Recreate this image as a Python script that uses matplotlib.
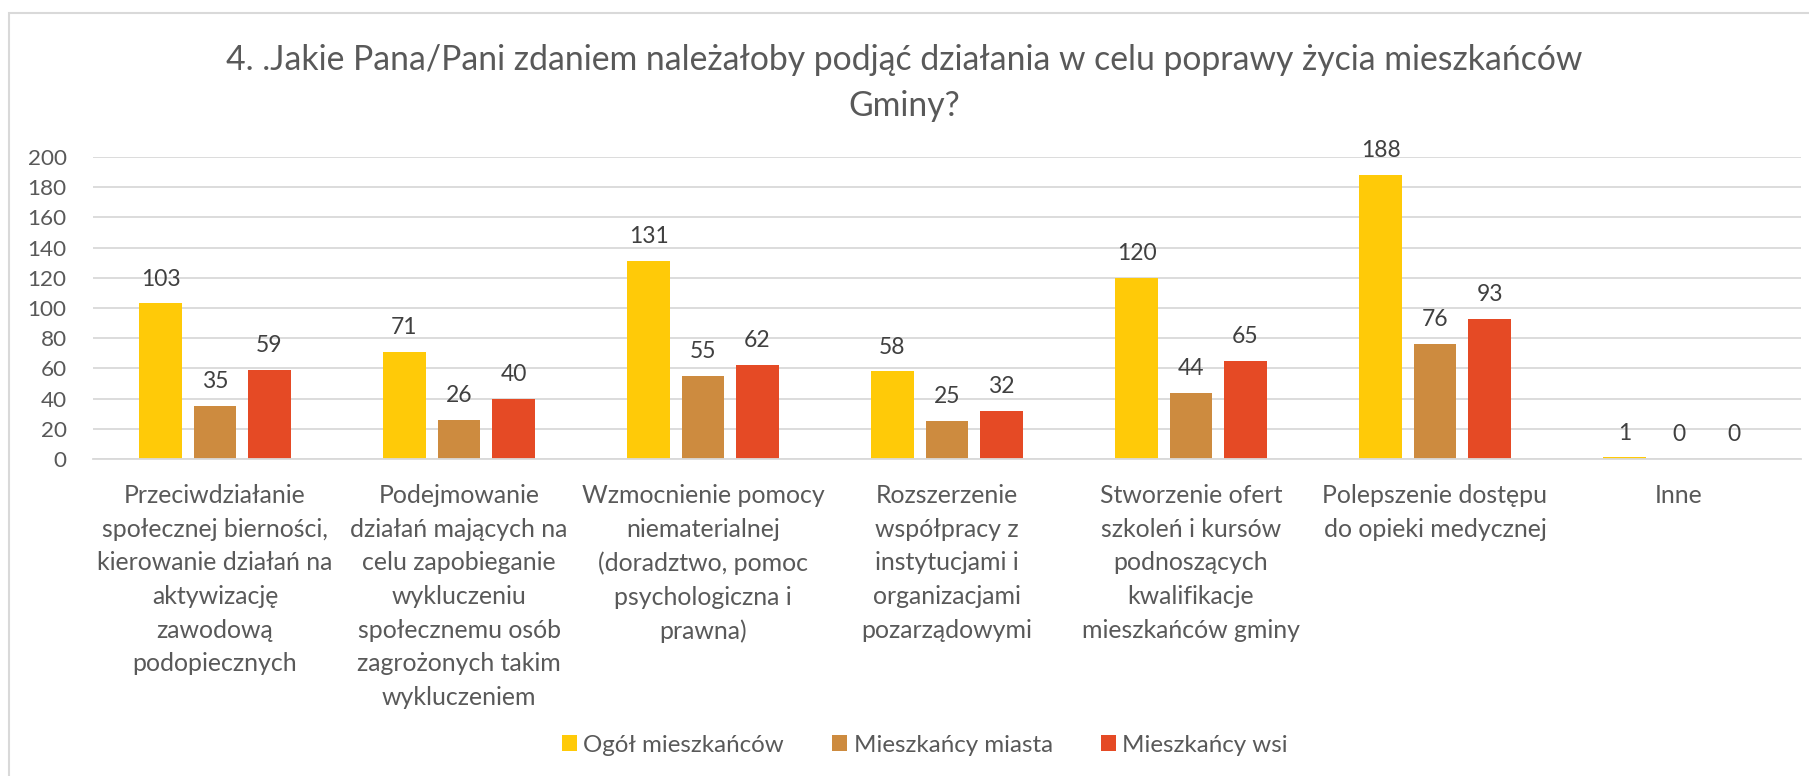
import matplotlib
matplotlib.use("Agg")
import matplotlib.pyplot as plt
import numpy as np
from matplotlib.patches import Rectangle

plt.rcParams['font.family'] = ['Lato', 'DejaVu Sans']

title = "4. .Jakie Pana/Pani zdaniem należałoby podjąć działania w celu poprawy życia mieszkańców\nGminy?"
categories = [
    "Przeciwdziałanie\nspołecznej bierności,\nkierowanie działań na\naktywizację\nzawodową\npodopiecznych",
    "Podejmowanie\ndziałań mających na\ncelu zapobieganie\nwykluczeniu\nspołecznemu osób\nzagrożonych takim\nwykluczeniem",
    "Wzmocnienie pomocy\nniematerialnej\n(doradztwo, pomoc\npsychologiczna i\nprawna)",
    "Rozszerzenie\nwspółpracy z\ninstytucjami i\norganizacjami\npozarządowymi",
    "Stworzenie ofert\nszkoleń i kursów\npodnoszących\nkwalifikacje\nmieszkańców gminy",
    "Polepszenie dostępu\ndo opieki medycznej",
    "Inne",
]
series_names = ["Ogół mieszkańców", "Mieszkańcy miasta", "Mieszkańcy wsi"]
ogol = [103, 71, 131, 58, 120, 188, 1]
miasto = [35, 26, 55, 25, 44, 76, 0]
wies = [59, 40, 62, 32, 65, 93, 0]
colors = ["#FFCA08", "#CD8B3F", "#E54A25"]
yticks = [0, 20, 40, 60, 80, 100, 120, 140, 160, 180, 200]

W, H = 1809, 776
fig = plt.figure(figsize=(W / 100, H / 100), dpi=100)
fig.patch.set_facecolor("white")

# outer chart frame
fig.add_artist(Rectangle((9 / W, -0.05), 1.2, (H - 13) / H + 0.05, transform=fig.transFigure,
                         fill=False, edgecolor="#D9D9D9", linewidth=1.5))

ax = fig.add_axes([93 / W, (H - 459) / H, (1801 - 93) / W, (459 - 157) / H])
x = np.arange(len(categories))
bw = 0.175
step = 0.2234
text_col = "#595959"
label_col = "#404040"

for i, (vals, col, name) in enumerate(zip([ogol, miasto, wies], colors, series_names)):
    bars = ax.bar(x + (i - 1) * step, vals, width=bw, color=col, label=name, zorder=3)
    for b, v in zip(bars, vals):
        ax.annotate(str(v), (b.get_x() + b.get_width() / 2, v), xytext=(0, 10),
                    textcoords="offset points", ha="center", va="bottom",
                    fontsize=16.5, color=label_col)

ax.set_xlim(-0.5, len(categories) - 0.5)
ax.set_ylim(0, 200)
ax.set_yticks(yticks)
ax.set_yticklabels([str(t) for t in yticks], fontsize=16.2, color=text_col)
ax.yaxis.grid(True, color="#D9D9D9", linewidth=1.3, zorder=0)
ax.set_axisbelow(True)
ax.set_xticks(x)
ax.set_xticklabels(categories, fontsize=17.9, color=text_col, linespacing=1.56, va="top")
ax.tick_params(axis="both", length=0)
ax.tick_params(axis="x", pad=18)
ax.tick_params(axis="y", pad=19)
for s in ["top", "right", "left"]:
    ax.spines[s].set_visible(False)
ax.spines["bottom"].set_color("#D9D9D9")
ax.spines["bottom"].set_linewidth(1.3)
ax.spines["bottom"].set_zorder(4)

fig.text(0.5, (H - 83) / H, title, ha="center", va="center", fontsize=24.3,
         color=text_col, linespacing=1.55)

leg = fig.legend(loc="center", bbox_to_anchor=(925 / W, (H - 745) / H), ncol=3, frameon=False,
                 fontsize=17.4, handlelength=0.62, handleheight=0.62, handletextpad=0.25,
                 columnspacing=2.02, labelcolor=text_col)

fig.savefig("out.png", dpi=100, facecolor="white")
